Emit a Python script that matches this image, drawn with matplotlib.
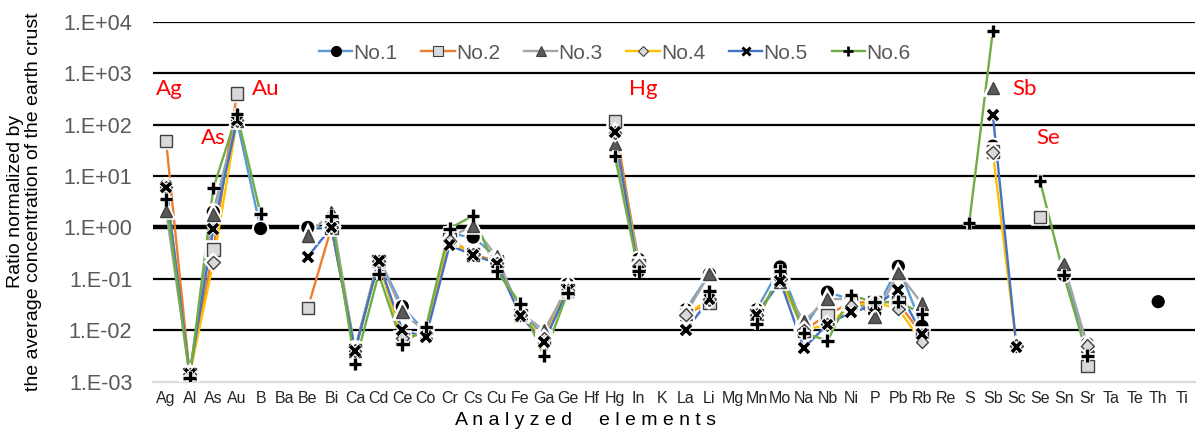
import numpy as np
import matplotlib
matplotlib.use("Agg")
import matplotlib.pyplot as plt
import matplotlib.patheffects as pe
from matplotlib.lines import Line2D

plt.rcParams['font.family'] = ['Liberation Sans', 'DejaVu Sans']

nan = np.nan

elements = ["Ag", "Al", "As", "Au", "B", "Ba", "Be", "Bi", "Ca", "Cd", "Ce", "Co",
            "Cr", "Cs", "Cu", "Fe", "Ga", "Ge", "Hf", "Hg", "In", "K", "La", "Li",
            "Mg", "Mn", "Mo", "Na", "Nb", "Ni", "P", "Pb", "Rb", "Re", "S", "Sb",
            "Sc", "Se", "Sn", "Sr", "Ta", "Te", "Th", "Ti"]

#      Ag   Al      As   Au   B     Ba   Be   Bi   Ca      Cd    Ce     Co
no1 = [6.5, 0.0014, 2.0, 120, 0.95, nan, 1.0, 1.0, 0.0044, 0.25, 0.029, 0.009,
       # Cr   Cs    Cu    Fe     Ga     Ge     Hf   Hg  In    K    La     Li
       0.75, 0.65, 0.26, 0.022, 0.008, 0.078, nan, 70, 0.24, nan, 0.025, 0.125,
       # Mg  Mn     Mo    Na     Nb     Ni    P      Pb     Rb     Re   S    Sb
       nan, 0.025, 0.17, 0.011, 0.055, 0.04, 0.022, 0.175, 0.012, nan, nan, 38,
       # Sc  Se   Sn    Sr      Ta   Te   Th     Ti
       nan, nan, 0.12, 0.0055, nan, nan, 0.036, nan]
no2 = [48, 0.0014, 0.37, 400, nan, nan, 0.027, 1.0, 0.004, 0.22, 0.0068, 0.009,
       0.6, 0.3, 0.22, 0.02, 0.007, 0.06, nan, 115, 0.18, nan, 0.02, 0.035,
       nan, 0.02, 0.1, 0.01, 0.02, 0.035, 0.035, 0.035, 0.008, nan, nan, 30,
       nan, 1.6, nan, 0.002, nan, nan, nan, nan]
no3 = [2.1, 0.0014, 1.8, 120, nan, nan, 0.69, 2.0, 0.004, 0.25, 0.023, 0.009,
       0.65, 1.07, 0.27, 0.022, 0.01, 0.065, nan, 42, 0.2, nan, 0.021, 0.125,
       nan, 0.021, 0.087, 0.015, 0.041, 0.04, 0.018, 0.13, 0.033, nan, nan, 515,
       nan, nan, 0.196, 0.005, nan, nan, nan, nan]
no4 = [6.0, 0.0014, 0.21, 120, nan, nan, nan, 1.0, 0.004, 0.22, 0.007, 0.009,
       0.55, 0.3, 0.2, 0.02, 0.007, 0.06, nan, 70, 0.18, nan, 0.02, 0.04,
       nan, 0.02, 0.1, 0.01, 0.013, 0.03, 0.035, 0.026, 0.0059, nan, nan, 29,
       0.005, nan, nan, 0.005, nan, nan, nan, nan]
no5 = [6.0, 0.0014, 0.93, 120, nan, nan, 0.27, 1.0, 0.004, 0.22, 0.01, 0.0074,
       0.45, 0.29, 0.2, 0.019, 0.0059, 0.06, nan, 72, 0.14, nan, 0.01, 0.04,
       nan, 0.02, 0.09, 0.0045, 0.013, 0.0225, 0.03, 0.061, 0.0085, nan, nan, 155,
       0.0047, nan, nan, nan, nan, nan, nan, nan]
no6 = [3.5, 0.0012, 5.8, 158, 1.85, nan, nan, 1.7, 0.0022, 0.125, 0.0053, 0.0115,
       0.95, 1.7, 0.14, 0.033, 0.0032, 0.054, nan, 24.5, 0.14, nan, nan, 0.057,
       nan, 0.0134, 0.145, 0.0089, 0.0063, 0.048, 0.035, 0.036, 0.021, nan, 1.23, 6600,
       nan, 7.9, 0.12, 0.0032, nan, nan, nan, nan]

series_names = ["No.1", "No.2", "No.3", "No.4", "No.5", "No.6"]
series_values = [no1, no2, no3, no4, no5, no6]

# red annotations: element name and y position
note_labels = ["Ag", "As", "Au", "Hg", "Sb", "Se"]
note_x = [0.15, 2.0, 4.2, 20.2, 36.35, 37.35]
note_y = [500, 55, 500, 500, 500, 55]

colors = ["#5B9BD5", "#ED7D31", "#A5A5A5", "#FFC000", "#4472C4", "#70AD47"]
markers = ["o", "s", "^", "D", "x", "+"]
mfaces = ["black", "#D9D9D9", "#595959", "#D9D9D9", "black", "black"]
medges = ["black", "#404040", "#404040", "#404040", "black", "black"]
msizes = [8.5, 9, 9, 6.5, 7, 9]
mews = [1, 1, 1, 1, 2.6, 2.4]

fig = plt.figure(figsize=(11.96, 4.32), dpi=100)
ax = fig.add_axes([0.128, 0.1164, 0.871, 0.8334])

x = np.arange(len(elements))

for yv in [1e-2, 1e-1, 1e1, 1e2, 1e3, 1e4]:
    ax.axhline(yv, color="black", lw=1.6, zorder=1)
ax.axhline(1.0, color="black", lw=3.2, zorder=1)

halo = [pe.withStroke(linewidth=4, foreground="white")]
for i, vals in enumerate(series_values):
    vals = np.array(vals, dtype=float)
    ax.plot(x, vals, color=colors[i], lw=1.7, zorder=3 + i * 0.1)
for i, vals in enumerate(series_values):
    vals = np.array(vals, dtype=float)
    ax.plot(x, vals, linestyle="none", marker=markers[i], ms=msizes[i],
            mfc=mfaces[i], mec=medges[i], mew=mews[i], zorder=5 + i * 0.1,
            path_effects=halo)

for lab, nx, ny in zip(note_labels, note_x, note_y):
    ax.text(nx, ny, lab, color="red", fontsize=16, ha="center", va="center",
            family=["Lato", "DejaVu Sans"], zorder=8)

ax.set_yscale("log")
ax.set_ylim(1e-3, 1e4)
ax.set_xlim(-0.55, 43.55)
ax.set_yticks([10.0 ** k for k in range(-3, 5)])
ax.set_yticklabels(["1.E-03", "1.E-02", "1.E-01", "1.E+00", "1.E+01",
                    "1.E+02", "1.E+03", "1.E+04"])
ax.minorticks_off()
ax.set_xticks(x)
ax.set_xticklabels(elements)
ax.tick_params(axis="y", length=0, labelsize=15.5, labelcolor="#595959", pad=15)
ax.tick_params(axis="x", length=0, labelsize=11.5, labelcolor="#262626", pad=7)

for s in ["top", "left", "right"]:
    ax.spines[s].set_visible(False)
ax.spines["bottom"].set_color("#D9D9D9")
ax.spines["bottom"].set_linewidth(1.6)
ax.spines["bottom"].set_zorder(2)

ax.set_xlabel("A n a l y z e d     e l e m e n t s", fontsize=14)
ax.xaxis.set_label_coords(0.415, -0.085)
ax.set_ylabel("Ratio normalized by\nthe average concentration of the earth crust",
              fontsize=14, linespacing=1.1)
ax.yaxis.set_label_coords(-0.1065, 0.5)

handles = []
for i, name in enumerate(series_names):
    handles.append(Line2D([0], [0], color=colors[i], lw=1.7, marker=markers[i],
                          ms=msizes[i] * 0.85, mfc=mfaces[i], mec=medges[i],
                          mew=mews[i] * 0.8, label=name))
leg = ax.legend(handles=handles, loc="center", bbox_to_anchor=(0.443, 0.9125),
                ncol=6, frameon=False, fontsize=15, handlelength=1.6,
                handletextpad=0.05, columnspacing=1.15, borderpad=0.1)
for t in leg.get_texts():
    t.set_color("#595959")
leg.set_zorder(6)

fig.savefig("out.png", dpi=100)
